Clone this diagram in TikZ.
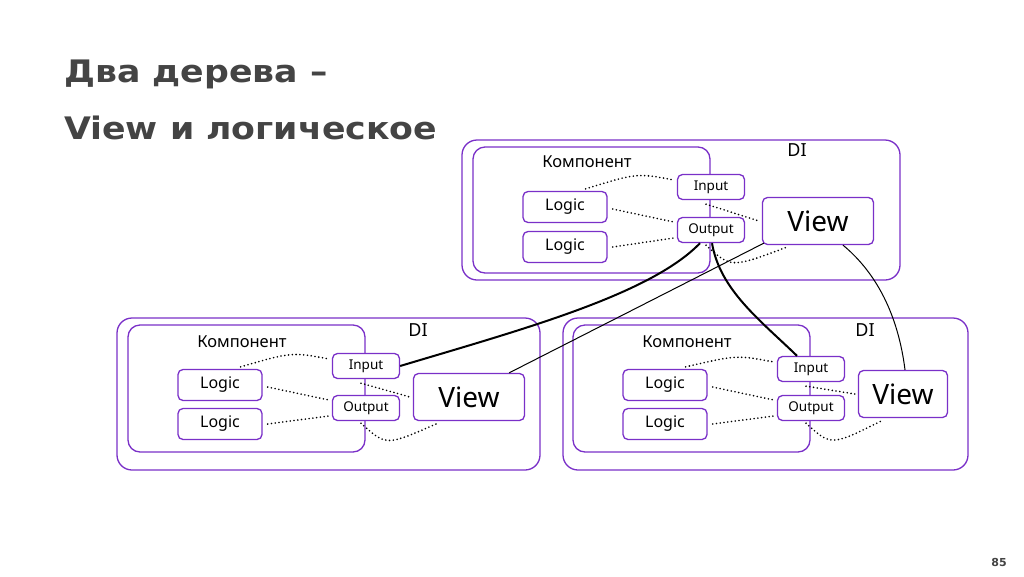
\documentclass[tikz,border=0pt]{standalone}
\usepackage{fontspec}
\usepackage{graphicx}
\setmainfont{Noto Sans}
\newfontfamily\titlefont{DejaVu Sans}[BoldFont={DejaVu Sans Bold}]
\usetikzlibrary{calc}
\definecolor{pur}{RGB}{122,48,200}
\definecolor{ttl}{RGB}{68,68,68}
\begin{document}
\begin{tikzpicture}[x=1pt,y=-1pt,
  box/.style={draw=pur,line width=1.3pt,rounded corners=5pt,fill=white,inner sep=0pt},
  logicbox/.style={box,minimum width=84pt,minimum height=31pt,font=\fontsize{16}{16}\selectfont},
  portbox/.style={box,minimum width=67pt,minimum height=25pt,font=\fontsize{13.5}{13.5}\selectfont},
  viewbox/.style={box,minimum width=111pt,minimum height=47pt,font=\fontsize{28}{28}\selectfont},
  frame/.style={draw=pur,line width=1.3pt,rounded corners=15pt},
  lbl/.style={font=\fontsize{16.5}{16.5}\selectfont,inner sep=0pt},
  dil/.style={font=\fontsize{18}{18}\selectfont,inner sep=0pt},
  dots/.style={line width=1.8pt,line cap=round,dash pattern=on 0pt off 3.8pt},
  thick link/.style={line width=2pt},
  thin link/.style={line width=1pt},
  ttlnode/.style={anchor=base west,inner sep=0pt,text=ttl,font=\titlefont\fontsize{31}{31}\selectfont\bfseries}]
\useasboundingbox (0,0) rectangle (1024,576);
\fill[white] (0,0) rectangle (1024,576);
% title
\node[ttlnode] (t1) at (64,82) {\scalebox{1.12}[1]{Два дерева –}};
\node[ttlnode] (t2) at (64,139) {\scalebox{1.12}[1]{View и логическое}};
\node[inner sep=0pt,text=ttl,font=\titlefont\fontsize{11}{11}\selectfont\bfseries] (pg) at (999,562) {85};

% ===== top group =====
\draw[frame] (462,140) rectangle (900,280);
\draw[frame,rounded corners=12pt] (473,147) rectangle (710,273);
\node[lbl] (kt) at (587,162) {Компонент};
\node[dil] (dt) at (797,150) {DI};
\node[logicbox] (tl1) at (565,207) {Logic};
\node[logicbox] (tl2) at (565,247) {Logic};
\node[portbox] (ti) at (711,187) {Input};
\node[portbox] (to) at (711,230) {Output};
\node[viewbox] (tv) at (818,221) {View};

% ===== bottom-left group =====
\draw[frame] (117,318) rectangle (540,470);
\draw[frame,rounded corners=12pt] (128,325) rectangle (365,452);
\node[lbl] (kl) at (242,342) {Компонент};
\node[dil] (dl) at (418,330) {DI};
\node[logicbox] (ll1) at (220,385) {Logic};
\node[logicbox] (ll2) at (220,424) {Logic};
\node[portbox] (li) at (366,366) {Input};
\node[portbox] (lo) at (366,408) {Output};
\node[viewbox] (lv) at (469,397) {View};

% ===== bottom-right group =====
\draw[frame] (563,318) rectangle (968,470);
\draw[frame,rounded corners=12pt] (573,325) rectangle (810,452);
\node[lbl] (kr) at (687,342) {Компонент};
\node[dil] (dr) at (865,330) {DI};
\node[logicbox] (rl1) at (665,385) {Logic};
\node[logicbox] (rl2) at (665,424) {Logic};
\node[portbox] (ri) at (811,369) {Input};
\node[portbox] (ro) at (811,408) {Output};
\node[viewbox,minimum width=89pt] (rv) at (903,394) {View};

% dotted internal links
\foreach \p in {t,l,r}{
  \draw[dots] ($(\p l1.north east)+(-22,-2)$) .. controls ($(\p i.west)+(-40,-14)$) .. ($(\p i.west)+(-3,-7)$);
  \draw[dots] ($(\p l1.east)+(5,2)$) -- ($(\p o.west)+(-3,-8)$);
  \draw[dots] ($(\p l2.east)+(5,0)$) -- ($(\p o.west)+(-3,8)$);
  \draw[dots] ($(\p i.south)+(-5,4)$) -- ($(\p v.west)+(-3,0)$);
  \draw[dots] ($(\p o.south)+(-5,2)$) .. controls ($(\p o.south)+(20,25)$) .. ($(\p v.south west)+(25,2)$);
}

% cross-group links
\draw[thick link] ($(to.south)+(-11,0)$) .. controls (650,295) and (520,330) .. (li.east);
\draw[thick link] ($(to.south)+(1,0)$) .. controls (720,290) and (760,320) .. ($(ri.north)+(-14,0)$);
\draw[thin link] ($(tv.south west)+(2,-2)$) -- ($(lv.north east)+(-16,0)$);
\draw[thin link] ($(tv.south)+(25,0)$) .. controls (885,280) and (900,330) .. ($(rv.north)+(2,0)$);
\end{tikzpicture}
\end{document}
